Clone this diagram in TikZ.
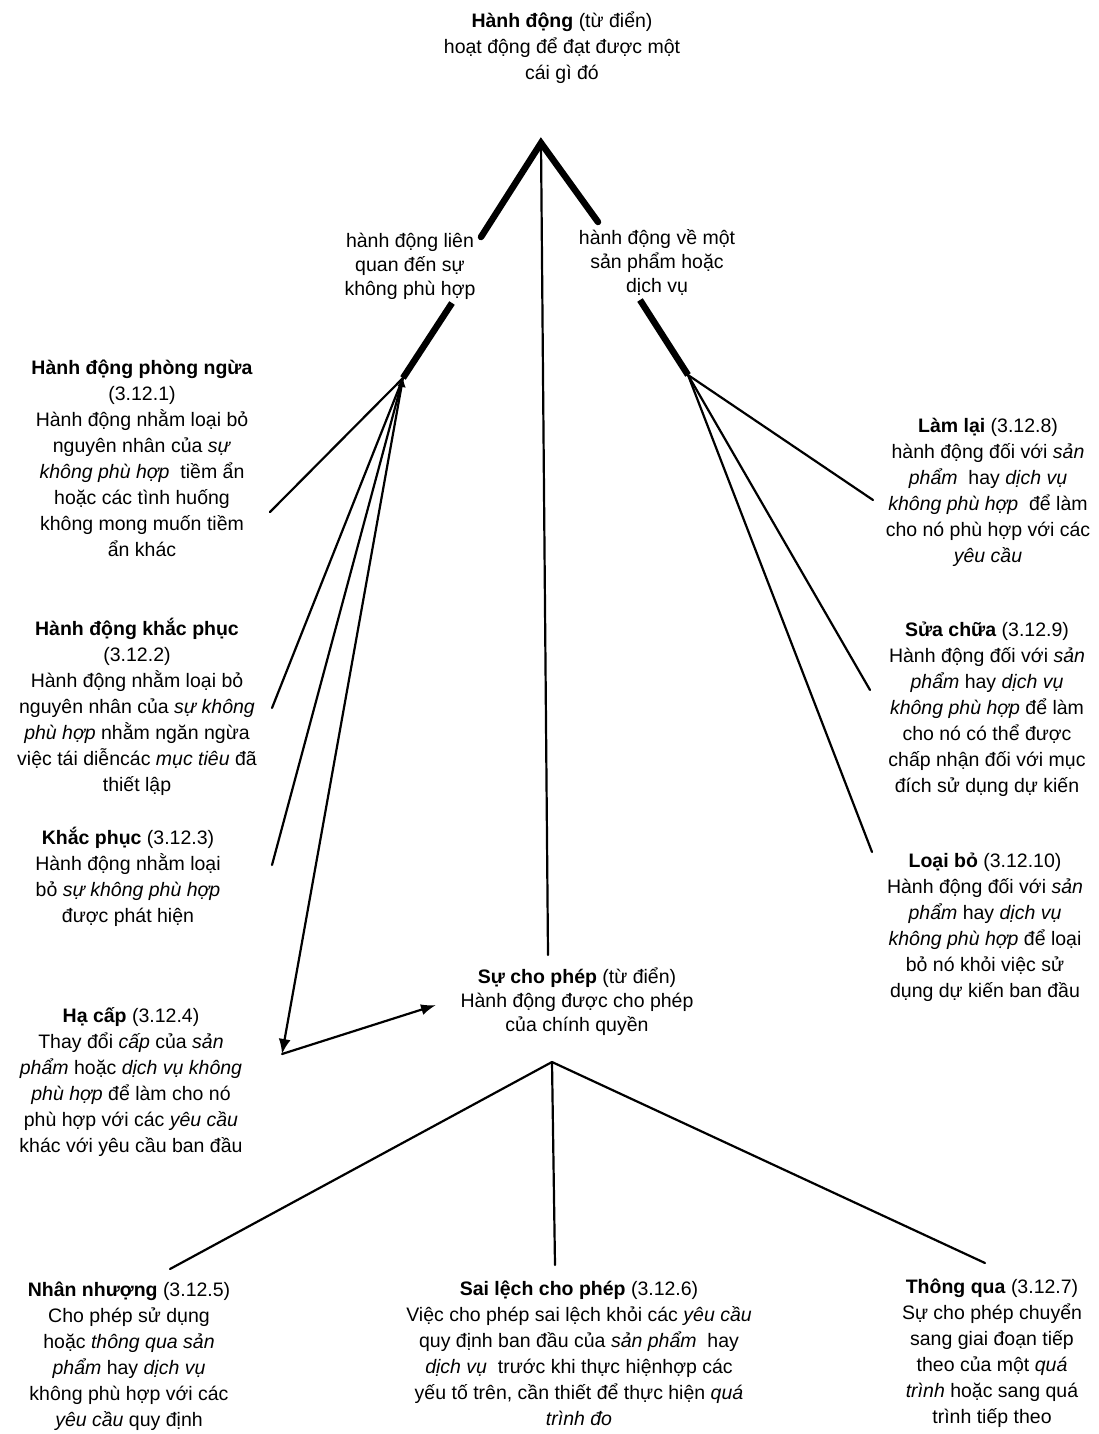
\documentclass[tikz,border=0pt]{standalone}
\usepackage{fontspec}
\setmainfont{Liberation Sans}
\usetikzlibrary{arrows.meta}
\begin{document}
\begin{tikzpicture}[x=1pt,y=-1pt,
  txt/.style={align=center, inner sep=0pt, font=\fontsize{19.5}{26}\selectfont},
  lbl/.style={align=center, inner sep=0pt, font=\fontsize{19.5}{24}\selectfont},
  conn/.style={line width=2.2pt, line cap=round},
  thickln/.style={line width=6.5pt},
  tip/.style={-{Latex[length=15pt,width=11pt]}}
]
\useasboundingbox[fill=white] (0,0) rectangle (1098,1434);

% texts
\node[txt] (top) at (562,48) {\textbf{Hành động} (từ điển)\\hoạt động để đạt được một\\cái gì đó};
\node[lbl] (ll) at (410,266) {hành động liên\\quan đến sự\\không phù hợp};
\node[lbl] (rl) at (657,262) {hành động về một\\sản phẩm hoặc\\dịch vụ};

\node[txt] (pn) at (142,458) {\textbf{Hành động phòng ngừa}\\(3.12.1)\\Hành động nhằm loại bỏ\\nguyên nhân của \textit{sự}\\\textit{không phù hợp}\ \ tiềm ẩn\\hoặc các tình huống\\không mong muốn tiềm\\ẩn khác};
\node[txt] (kp) at (137,707) {\textbf{Hành động khắc phục}\\(3.12.2)\\Hành động nhằm loại bỏ\\nguyên nhân của \textit{sự không}\\\textit{phù hợp} nhằm ngăn ngừa\\việc tái diễncác \textit{mục tiêu} đã\\thiết lập};
\node[txt] (kp3) at (128,877) {\textbf{Khắc phục} (3.12.3)\\Hành động nhằm loại\\bỏ \textit{sự không phù hợp}\\được phát hiện};
\node[txt] (hc) at (131,1082) {\textbf{Hạ cấp} (3.12.4)\\Thay đổi \textit{cấp} của \textit{sản}\\\textit{phẩm} hoặc \textit{dịch vụ không}\\\textit{phù hợp} để làm cho nó\\phù hợp với các \textit{yêu cầu}\\khác với yêu cầu ban đầu};

\node[txt] (ll8) at (988,492) {\textbf{Làm lại} (3.12.8)\\hành động đối với \textit{sản}\\\textit{phẩm}\ \ hay \textit{dịch vụ}\\\textit{không phù hợp}\ \ để làm\\cho nó phù hợp với các\\\textit{yêu cầu}};
\node[txt] (sc) at (987,709) {\textbf{Sửa chữa} (3.12.9)\\Hành động đối với \textit{sản}\\\textit{phẩm} hay \textit{dịch vụ}\\\textit{không phù hợp} để làm\\cho nó có thể được\\chấp nhận đối với mục\\đích sử dụng dự kiến};
\node[txt] (lb) at (985,927) {\textbf{Loại bỏ} (3.12.10)\\Hành động đối với \textit{sản}\\\textit{phẩm} hay \textit{dịch vụ}\\\textit{không phù hợp} để loại\\bỏ nó khỏi việc sử\\dụng dự kiến ban đầu};

\node[lbl] (scp) at (577,1002) {\textbf{Sự cho phép} (từ điển)\\Hành động được cho phép\\của chính quyền};

\node[txt] (nn) at (129,1356) {\textbf{Nhân nhượng} (3.12.5)\\Cho phép sử dụng\\hoặc \textit{thông qua sản}\\\textit{phẩm} hay \textit{dịch vụ}\\không phù hợp với các\\\textit{yêu cầu} quy định};
\node[txt] (sl) at (579,1353) {\textbf{Sai lệch cho phép} (3.12.6)\\Việc cho phép sai lệch khỏi các \textit{yêu cầu}\\quy định ban đầu của \textit{sản phẩm}\ \ hay\\\textit{dịch vụ}\ \ trước khi thực hiệnhợp các\\yếu tố trên, cần thiết để thực hiện \textit{quá}\\\textit{trình đo}};
\node[txt] (tq) at (992,1353) {\textbf{Thông qua} (3.12.7)\\Sự cho phép chuyển\\sang giai đoạn tiếp\\theo của một \textit{quá}\\\textit{trình} hoặc sang quá\\trình tiếp theo};

% junction points
\coordinate (apex) at (541,143);
\coordinate (la) at (481,237);
\coordinate (lb2) at (452,303);
\coordinate (lhub) at (403,378);
\coordinate (ra) at (598,222);
\coordinate (rb2) at (640,300);
\coordinate (rhub) at (688,375);
\coordinate (cbot) at (548,955);
\coordinate (corner) at (282,1054);
\coordinate (arr) at (436,1005);
\coordinate (shub) at (552,1062);

\coordinate (e1) at (270,512);
\coordinate (e2) at (272,708);
\coordinate (e3) at (272,865);
\coordinate (e8) at (873,500);
\coordinate (e9) at (870,690);
\coordinate (e10) at (872,852);
\coordinate (e5) at (170,1269);
\coordinate (e6) at (555,1265);
\coordinate (e7) at (985,1263);

% thick branches
\draw[thickln, line cap=round] (la) -- (apex) -- (ra);
\draw[thickln] (lb2) -- (lhub);
\draw[thickln] (rb2) -- (rhub);
\draw[conn] (apex) -- (cbot);

% left fan
\draw[conn] (lhub) -- (e1);
\draw[conn] (lhub) -- (e2);
\draw[conn] (lhub) -- (e3);
\draw[conn, {Latex[length=9pt,width=9pt]}-{Latex[length=15pt,width=12pt]}] (lhub) -- (corner);
\draw[conn, tip] (corner) -- (arr);

% right fan
\draw[conn] (rhub) -- (e8);
\draw[conn] (rhub) -- (e9);
\draw[conn] (rhub) -- (e10);

% bottom fan
\draw[conn] (shub) -- (e5);
\draw[conn] (shub) -- (e6);
\draw[conn] (shub) -- (e7);
\end{tikzpicture}
\end{document}
